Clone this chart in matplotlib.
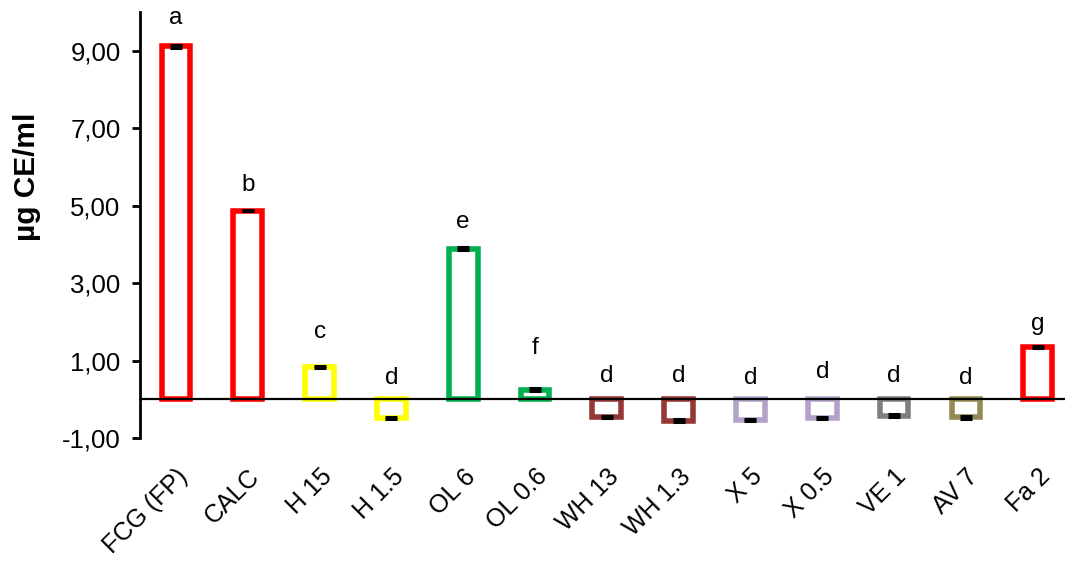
import matplotlib
matplotlib.use('Agg')
import matplotlib.pyplot as plt

plt.rcParams['font.family'] = ['Liberation Sans', 'DejaVu Sans']

samples = ['FCG (FP)', 'CALC', 'H 15', 'H 1.5', 'OL 6', 'OL 0.6', 'WH 13',
           'WH 1.3', 'X 5', 'X 0.5', 'VE 1', 'AV 7', 'Fa 2']
means = [9.11, 4.87, 0.84, -0.48, 3.89, 0.25, -0.45, -0.55, -0.53, -0.48,
         -0.42, -0.47, 1.35]
sds = [0.03, 0.02, 0.03, 0.03, 0.03, 0.04, 0.03, 0.03, 0.03, 0.03, 0.03,
       0.03, 0.03]
letters = ['a', 'b', 'c', 'd', 'e', 'f', 'd', 'd', 'd', 'd', 'd', 'd', 'g']
letter_y = [9.85, 5.54, 1.74, 0.55, 4.58, 1.33, 0.61, 0.61, 0.55, 0.71,
            0.61, 0.55, 1.95]
colors = ['#FF0000', '#FF0000', '#FFFF00', '#FFFF00', '#00B050', '#00B050',
          '#953735', '#953735', '#B3A2C7', '#B3A2C7', '#7F7F7F', '#948A54',
          '#FF0000']

fig = plt.figure(figsize=(10.65, 5.61), dpi=100)
ax = fig.add_axes([0.1315, 0.2193, 0.8685, 0.7593])

x = list(range(len(samples)))
ax.bar(x, means, width=0.40, color='white', edgecolor=colors, linewidth=4,
       zorder=2)
ax.errorbar(x, means, yerr=sds, fmt='none', ecolor='black', elinewidth=2,
            capsize=4.5, capthick=2.2, zorder=3)
ax.axhline(0, color='black', lw=1.6, zorder=4)

for xi, ly, lt in zip(x, letter_y, letters):
    ax.text(xi, ly, lt, ha='center', va='center', fontsize=17.5)

ax.set_xlim(-0.5, 12.38)
ax.set_ylim(-1, 10)
ax.set_yticks([-1, 1, 3, 5, 7, 9])
ax.set_yticklabels(['-1,00', '1,00', '3,00', '5,00', '7,00', '9,00'])
ax.set_xticks(x)
ax.set_xticklabels(samples, rotation=45, ha='right', va='top',
                   rotation_mode='anchor')
ax.tick_params(axis='y', direction='out', length=6, width=2, labelsize=18.5,
               pad=8)
ax.tick_params(axis='x', length=0, labelsize=18, pad=19)

for s in ['top', 'right', 'bottom']:
    ax.spines[s].set_visible(False)
ax.spines['left'].set_linewidth(2)

fig.text(27 / 1065, 1 - 177 / 561, 'µg CE/ml', rotation=90, ha='center',
         va='center', fontsize=21.5, fontweight='bold')

fig.savefig('out.png', dpi=100)
